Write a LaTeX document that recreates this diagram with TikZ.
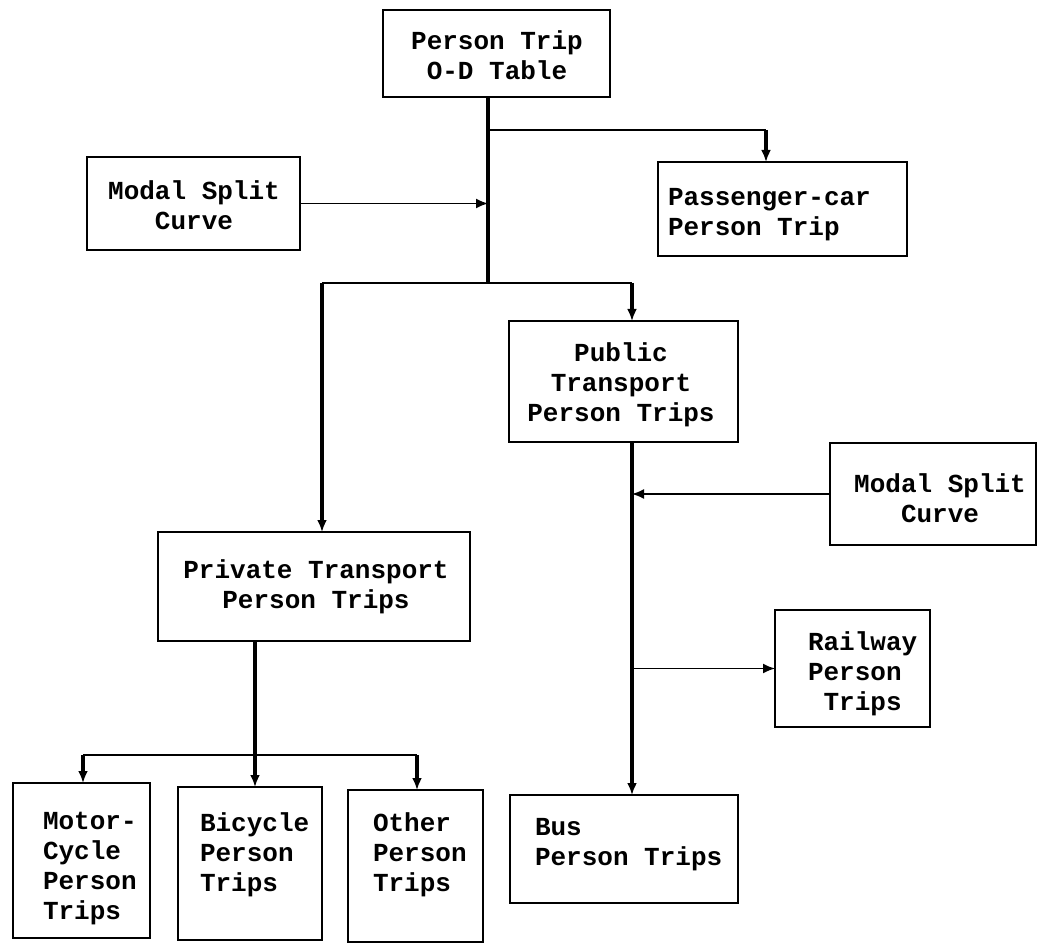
\documentclass[tikz,border=0pt]{standalone}
\usepackage{fontspec}
\setmonofont{Liberation Mono}
\usetikzlibrary{arrows.meta,fit}

\tikzset{
  box/.style={draw, line width=1.3pt, inner sep=0pt, outer sep=0pt},
  lbl/.style={inner sep=0pt, outer sep=0pt, font=\ttfamily\bfseries\fontsize{13pt}{15pt}\selectfont},
  trunk/.style={line width=1.8pt},
  link/.style={line width=0.8pt},
  tip/.style={-{Latex[length=6pt,width=5pt]}}
}

\begin{document}
\begin{tikzpicture}[x=0.5pt, y=-0.5pt]
  \useasboundingbox (0,0) rectangle (1042,945);

  % boxes
  \node[box, fit={(383,10) (610,97)}]   (od)    {};
  \node[box, fit={(87,157) (300,250)}]  (msl)   {};
  \node[box, fit={(658,162) (907,256)}] (pass)  {};
  \node[box, fit={(509,321) (738,442)}] (pub)   {};
  \node[box, fit={(830,443) (1036,545)}] (msr)  {};
  \node[box, fit={(158,532) (470,641)}] (priv)  {};
  \node[box, fit={(775,610) (930,727)}] (rail)  {};
  \node[box, fit={(13,783) (150,938)}]  (motor) {};
  \node[box, fit={(178,787) (322,940)}] (bic)   {};
  \node[box, fit={(348,790) (483,942)}] (other) {};
  \node[box, fit={(510,795) (738,903)}] (bus)   {};

  % labels (anchored at the baseline of their last line)
  \node[lbl, align=center, anchor=base] (odT) at (497,80) {Person Trip\\O-D Table};
  \node[lbl, align=center, anchor=base] (mslT) at (194,230) {Modal Split\\Curve};
  \node[lbl, align=left, anchor=base west] (passT) at (668,236) {Passenger-car\\Person Trip};
  \node[lbl, align=center, anchor=base] (pubT) at (621,422) {Public\\Transport\\Person Trips};
  \node[lbl, align=center, anchor=base] (msrT) at (940,523) {Modal Split\\Curve};
  \node[lbl, align=center, anchor=base] (privT) at (316,608) {Private Transport\\Person Trips};
  \node[lbl, align=left, anchor=base west] (railT) at (808,710) {Railway\\Person\\\phantom{x}Trips};
  \node[lbl, align=left, anchor=base west] (motorT) at (43,919) {Motor-\\Cycle\\Person\\Trips};
  \node[lbl, align=left, anchor=base west] (bicT) at (200,891) {Bicycle\\Person\\Trips};
  \node[lbl, align=left, anchor=base west] (otherT) at (373,891) {Other\\Person\\Trips};
  \node[lbl, align=left, anchor=base west] (busT) at (535,865) {Bus\\Person Trips};

  % junction points
  \coordinate (jA) at (488,130);
  \coordinate (jC) at (488,283);
  \coordinate (pA) at (766,130);
  \coordinate (pL) at (322,283);
  \coordinate (pR) at (632,283);
  \coordinate (q)  at (632,0);
  \coordinate (r)  at (255,0);
  \coordinate (bl) at (83,755);
  \coordinate (br) at (417,755);

  % main trunk from the O-D table
  \draw[trunk] (od.south -| jC) -- (jC);
  \draw[link] (jA) -- (pA);
  \draw[trunk, tip] (pA) -- (pA |- pass.north);
  \draw[link, tip] (msl.east) -- (msl.east -| jC);

  % split into private and public transport
  \draw[link] (pL) -- (pR);
  \draw[trunk, tip] (pL) -- (pL |- priv.north);
  \draw[trunk, tip] (pR) -- (pR |- pub.north);

  % public transport branch
  \draw[trunk, tip] (pub.south -| q) -- (bus.north -| q);
  \draw[link, tip] (msr.west) -- (msr.west -| q);
  \draw[link, tip] (rail.west -| q) -- (rail.west);

  % private transport branch
  \draw[trunk, tip] (priv.south -| r) -- (bic.north -| r);
  \draw[link] (bl) -- (br);
  \draw[trunk, tip] (bl) -- (bl |- motor.north);
  \draw[trunk, tip] (br) -- (br |- other.north);
\end{tikzpicture}
\end{document}
